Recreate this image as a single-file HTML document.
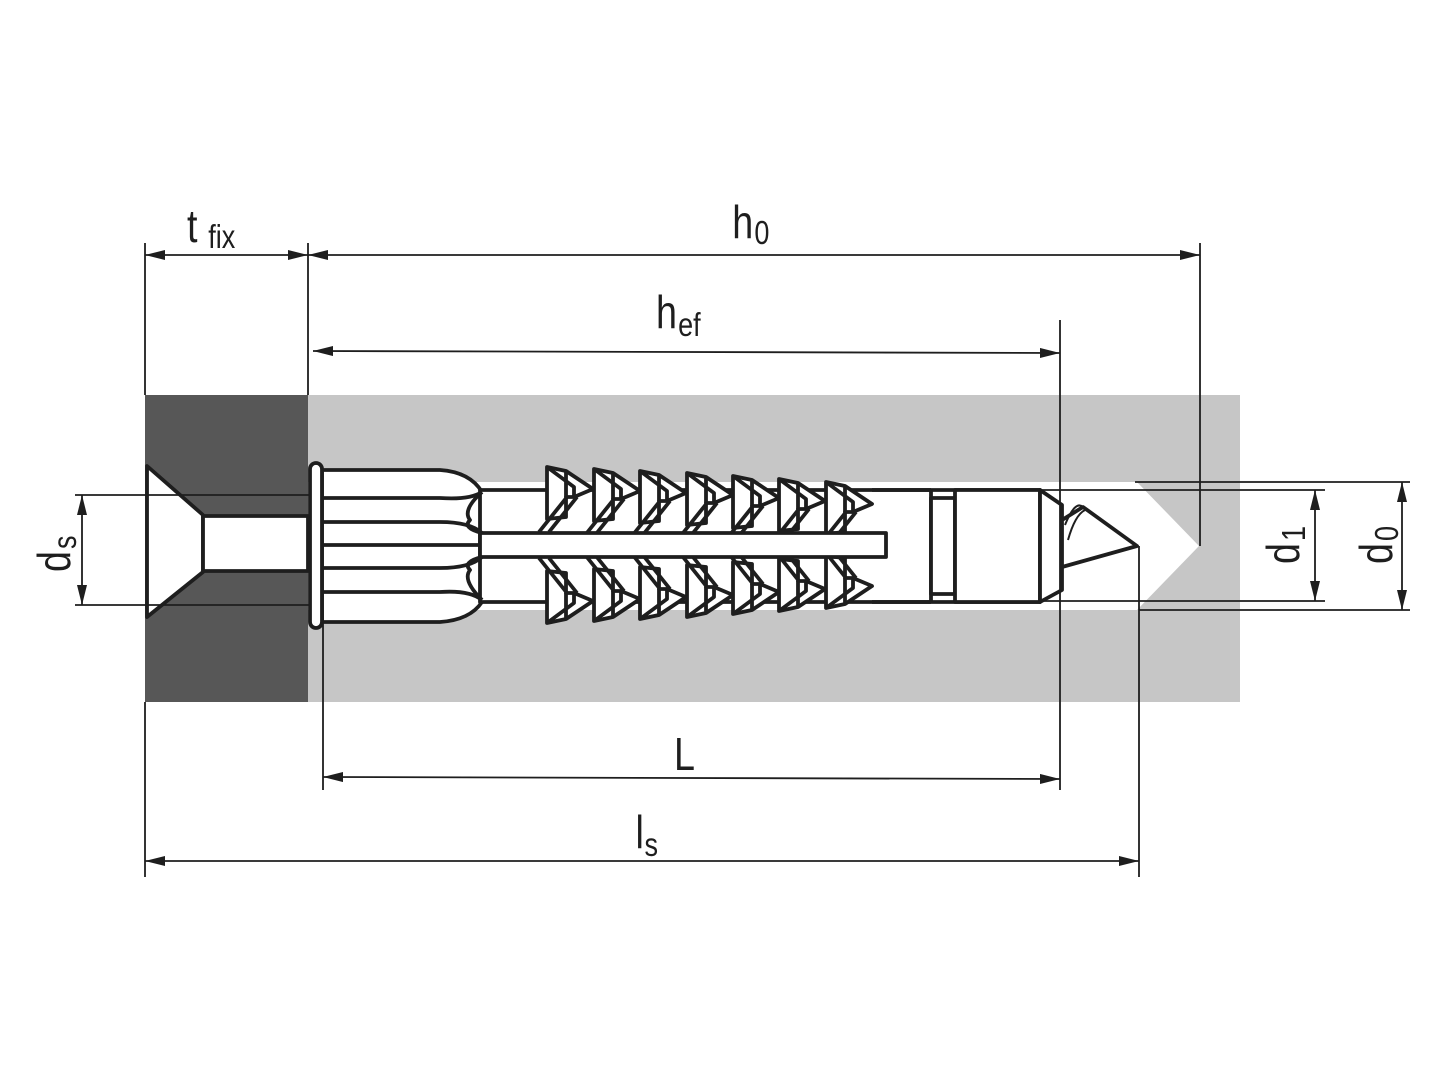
<!DOCTYPE html>
<html><head><meta charset="utf-8"><style>
html,body{margin:0;padding:0;background:#fff;width:1440px;height:1080px;overflow:hidden}
text{font-family:"Liberation Sans",sans-serif;fill:#1e1e1e}
</style></head><body>
<svg width="1440" height="1080" viewBox="0 0 1440 1080" xmlns="http://www.w3.org/2000/svg">
<defs>
<marker id="a" viewBox="0 0 20 10" refX="20" refY="5" markerWidth="20" markerHeight="10" markerUnits="userSpaceOnUse" orient="auto-start-reverse"><path d="M0,0 L20,5 L0,10 z" fill="#1e1e1e"/></marker>
<g id="tooth" stroke="#1e1e1e" stroke-width="3.8" stroke-linejoin="round" fill="#fff">
<polygon points="0,0 19,4 46,22 27,30 19,30 19,50 0,52"/>
<polyline points="0,0 27,20 27,30" fill="none"/>
<line x1="19" y1="4" x2="19" y2="30"/>
<line x1="-8" y1="65" x2="20" y2="30"/>
<line x1="2" y1="65" x2="30" y2="30"/>
</g>
</defs>
<rect x="145" y="395" width="163" height="307" fill="#575757"/>
<rect x="308" y="395" width="932" height="307" fill="#c6c6c6"/>
<polygon points="308,482 1137,482 1199,546 1137,610 308,610" fill="#fff"/>
<g stroke="#1e1e1e" stroke-width="3.8" fill="#fff" stroke-linejoin="round">
<polygon points="147,466 203,515 203,572 147,617"/>
<rect x="203" y="516" width="105" height="55"/>
<path d="M322,470 L440,470 Q470,472 482,492 L482,602 Q470,620 440,622 L322,622 z"/>
<rect x="480" y="490" width="560" height="112" fill="#fff"/>
<rect x="310" y="463" width="12" height="165" rx="6"/>
<path d="M322,498 L440,498 Q470,500 482,492 M322,522 L440,522 Q470,522 482,533 M322,545 L482,545 M322,568 L440,568 Q470,568 482,557 M322,592 L440,592 Q470,590 482,600" fill="none"/>
<path d="M482,492 Q462,510 470,520 Q462,528 482,533 M482,557 Q462,562 470,570 Q462,580 482,600" fill="none"/>
</g>
<g>
<use href="#tooth" x="547" y="467"/>
<use href="#tooth" x="594" y="469"/>
<use href="#tooth" x="640" y="471"/>
<use href="#tooth" x="687" y="473"/>
<use href="#tooth" x="733" y="476"/>
<use href="#tooth" x="779" y="479"/>
<use href="#tooth" x="826" y="482"/>
</g>
<g transform="translate(0,1090) scale(1,-1)">
<use href="#tooth" x="547" y="467"/>
<use href="#tooth" x="594" y="469"/>
<use href="#tooth" x="640" y="471"/>
<use href="#tooth" x="687" y="473"/>
<use href="#tooth" x="733" y="476"/>
<use href="#tooth" x="779" y="479"/>
<use href="#tooth" x="826" y="482"/>
</g>
<g stroke="#1e1e1e" stroke-width="3.8" fill="#fff" stroke-linejoin="round">
<rect x="888" y="492" width="42" height="108" stroke="none"/>
<rect x="480" y="533" width="406" height="24"/>
<line x1="872" y1="490" x2="931" y2="490"/>
<line x1="872" y1="602" x2="931" y2="602"/>
<line x1="931" y1="490" x2="931" y2="602"/>
<rect x="931" y="498" width="24" height="96"/>
<rect x="955" y="490" width="85" height="112"/>
<polygon points="1040,490 1062,505 1062,590 1040,602"/>
<polygon points="1062,520 1083,507 1137,546 1062,567"/>
<path d="M1065,525 Q1075,500 1083,507 M1068,540 Q1075,515 1085,510" fill="none" stroke-width="2"/>
</g>
<g stroke="#1e1e1e" stroke-width="1.8" fill="none">
<line x1="145" y1="243" x2="145" y2="395"/>
<line x1="308" y1="243" x2="308" y2="395"/>
<line x1="145" y1="702" x2="145" y2="877"/>
<line x1="1200" y1="243" x2="1200" y2="546"/>
<line x1="1060" y1="320" x2="1060" y2="790"/>
<line x1="323" y1="610" x2="323" y2="790"/>
<line x1="1139" y1="546" x2="1139" y2="877"/>
<line x1="75" y1="495" x2="310" y2="495"/>
<line x1="75" y1="605" x2="310" y2="605"/>
<line x1="1040" y1="490" x2="1325" y2="490"/>
<line x1="1040" y1="601" x2="1325" y2="601"/>
<line x1="1135" y1="482" x2="1410" y2="482"/>
<line x1="1139" y1="610" x2="1410" y2="610"/>
<line x1="145" y1="255" x2="308" y2="255" marker-start="url(#a)" marker-end="url(#a)"/>
<line x1="308" y1="255" x2="1200" y2="255" marker-start="url(#a)" marker-end="url(#a)"/>
<line x1="313" y1="351" x2="1060" y2="353" marker-start="url(#a)" marker-end="url(#a)"/>
<line x1="323" y1="777" x2="1060" y2="779" marker-start="url(#a)" marker-end="url(#a)"/>
<line x1="145" y1="861" x2="1139" y2="861" marker-start="url(#a)" marker-end="url(#a)"/>
<line x1="82" y1="495" x2="82" y2="605" marker-start="url(#a)" marker-end="url(#a)"/>
<line x1="1315" y1="490" x2="1315" y2="601" marker-start="url(#a)" marker-end="url(#a)"/>
<line x1="1402" y1="482" x2="1402" y2="610" marker-start="url(#a)" marker-end="url(#a)"/>
</g>
<g transform="scale(0.82,1)">
<text x="228" y="242" font-size="46">t</text>
<text x="254" y="248" font-size="33">fix</text>
<text x="893" y="238" font-size="46">h</text>
<text x="920" y="244" font-size="33">0</text>
<text x="800" y="328" font-size="46">h</text>
<text x="827" y="336" font-size="33">ef</text>
<text x="822" y="770" font-size="46">L</text>
<text x="775" y="848" font-size="46">l</text>
<text x="786" y="856" font-size="33">s</text>
</g>
<g transform="translate(70,572) rotate(-90) scale(0.82,1)"><text x="0" y="0" font-size="46">d</text><text x="28" y="6" font-size="33">s</text></g>
<g transform="translate(1299,564) rotate(-90) scale(0.82,1)"><text x="0" y="0" font-size="46">d</text><text x="28" y="6" font-size="33">1</text></g>
<g transform="translate(1392,564) rotate(-90) scale(0.82,1)"><text x="0" y="0" font-size="46">d</text><text x="28" y="6" font-size="33">0</text></g>
</svg>
</body></html>
